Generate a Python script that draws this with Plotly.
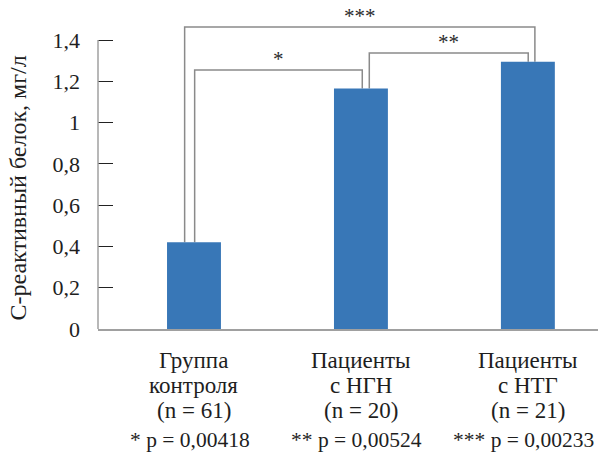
import plotly.graph_objects as go

categories = ["Группа<br>контроля<br>(n = 61)", "Пациенты<br>с НГН<br>(n = 20)", "Пациенты<br>с НТГ<br>(n = 21)"]
crp_values = [0.42, 1.165, 1.295]
p_labels = ["* p = 0,00418", "** p = 0,00524", "*** p = 0,00233"]
comparisons = [(0, 1, "*"), (1, 2, "**"), (0, 2, "***")]
y_tick_vals = [0, 0.2, 0.4, 0.6, 0.8, 1.0, 1.2, 1.4]
y_tick_text = ["0", "0,2", "0,4", "0,6", "0,8", "1", "1,2", "1,4"]
y_title = "С-реактивный белок, мг/л"

# styling / placement (not data)
FONT = "Liberation Serif"
TXT = "#1e1e1e"
BAR_COLOR = "#3877B7"
LINE_COLOR = "#8a8a8a"
bracket_levels = [1.255, 1.337, 1.463]
leg_offsets = [(0.004, 0.008), (0.05, 0.002), (-0.056, 0.042)]
line_shifts = [-31, -56, -81]
p_shift = -111

xs = list(range(len(categories)))
fig = go.Figure()
fig.add_trace(go.Bar(x=xs, y=crp_values, marker=dict(color=BAR_COLOR, line=dict(width=0)),
                     width=0.323, hoverinfo="skip"))

shapes = []
annotations = []
for (i, j, lab), lvl, (oi, oj) in zip(comparisons, bracket_levels, leg_offsets):
    xi, xj = xs[i] + oi, xs[j] + oj
    path = f"M {xi},{crp_values[i]} L {xi},{lvl} L {xj},{lvl} L {xj},{crp_values[j]}"
    shapes.append(dict(type="path", path=path, xref="x", yref="y",
                       line=dict(color=LINE_COLOR, width=1.5), layer="below"))
    annotations.append(dict(x=(xi + xj) / 2, y=lvl, xref="x", yref="y", text=lab,
                            showarrow=False, yanchor="bottom", yshift=-3,
                            font=dict(family=FONT, size=21, color="#2a2a2a")))

# y axis line only up to 1.4
shapes.append(dict(type="line", xref="paper", yref="y", x0=0, x1=0, y0=0, y1=y_tick_vals[-1],
                   line=dict(color="#a0a0a0", width=1.5)))

# category labels, one annotation per line
for x, cat in zip(xs, categories):
    for line, sh in zip(cat.split("<br>"), line_shifts):
        annotations.append(dict(x=x, y=0, xref="x", yref="paper", text=line, showarrow=False,
                                yanchor="middle", yshift=sh,
                                font=dict(family=FONT, size=23, color=TXT)))

for x, pl in zip(xs, p_labels):
    annotations.append(dict(x=x, y=0, xref="x", yref="paper", text=pl, showarrow=False,
                            yanchor="middle", yshift=p_shift, xshift=-4,
                            font=dict(family=FONT, size=21.5, color=TXT)))

annotations.append(dict(x=0, y=0.7, xref="paper", yref="y", xshift=-80, yshift=-4, text=y_title,
                        textangle=-90, showarrow=False, xanchor="center", yanchor="middle",
                        font=dict(family=FONT, size=24, color=TXT)))

fig.update_layout(
    width=598, height=456,
    margin=dict(l=98, r=0, t=0, b=127),
    paper_bgcolor="white", plot_bgcolor="white",
    showlegend=False,
    font=dict(family=FONT),
    shapes=shapes, annotations=annotations,
    xaxis=dict(tickmode="array", tickvals=xs, showticklabels=False, range=[-0.575, 2.42],
               showline=True, linecolor="#a0a0a0", linewidth=1.5, ticks="",
               showgrid=False, zeroline=False),
    yaxis=dict(range=[0, 1.594], tickmode="array", tickvals=y_tick_vals, ticktext=y_tick_text,
               ticks="inside", ticklen=15, tickcolor="#222", tickwidth=1,
               showline=False, showgrid=False, zeroline=False, ticklabelstandoff=17,
               tickfont=dict(family=FONT, size=22, color=TXT)),
)

fig.write_html("out.html", post_script="document.body.style.margin='0';",
               config={"displayModeBar": False})
